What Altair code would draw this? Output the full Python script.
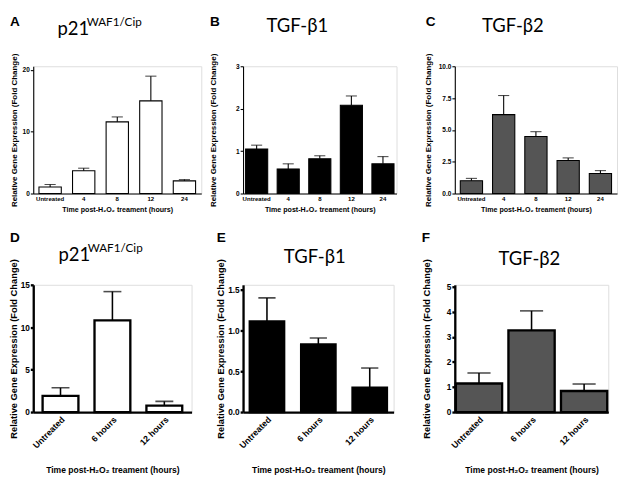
import altair as alt
import pandas as pd

# ---------------- data ----------------
top_cats = ["Untreated", "4", "8", "12", "24"]
bot_cats = ["Untreated", "6 hours", "12 hours"]

a_vals = [1.05, 3.7, 11.6, 15.0, 2.05]
a_errs = [1.47, 4.1, 12.4, 19.0, 2.25]
b_vals = [1.05, 0.58, 0.82, 2.08, 0.70]
b_errs = [1.14, 0.70, 0.89, 2.30, 0.87]
c_vals = [1.01, 6.2, 4.48, 2.6, 1.57]
c_errs = [1.19, 7.7, 4.86, 2.8, 1.8]
d_vals = [1.9, 10.8, 0.76]
d_errs = [2.86, 14.2, 1.26]
e_vals = [1.11, 0.83, 0.30]
e_errs = [1.40, 0.907, 0.54]
f_vals = [1.14, 3.26, 0.84]
f_errs = [1.56, 4.04, 1.12]

a_ticks = [0, 10, 20]
b_ticks = [0, 1, 2, 3]
c_ticks = [0, 2.5, 5, 7.5, 10]
d_ticks = [0, 5, 10, 15]
e_ticks = [0, 0.5, 1.0, 1.5]
f_ticks = [0, 1, 2, 3, 4, 5]

x_title = "Time post-H\u2082O\u2082 treament (hours)"
y_title = "Relative Gene Expression (Fold Change)"

AXF = "Liberation Sans"
TTF = "Lato"
H = 131


def text_layer(txt, x, y, size, font, weight="normal"):
    return alt.Chart(pd.DataFrame({"t": [txt]})).mark_text(
        align="left", baseline="alphabetic", font=font, fontSize=size,
        fontWeight=weight, color="black"
    ).encode(x=alt.value(x), y=alt.value(y), text="t:N")


def panel(cats, vals, errs, fill, width, ymax, ticks, fmt, pin, pout, big,
          ytx, letter, lxy, title, txy, sup=None, sxy=None):
    df = pd.DataFrame({"cat": cats, "val": vals, "err": errs})
    lw = 2.4 if big else 1.1
    if big:
        lab_size, ylab_size, xt_size, yt_size = 9, 8.5, 8.8, 9.6
    else:
        lab_size, ylab_size, xt_size, yt_size = 6.2, 6.7, 7.3, 8.2
    xscale = alt.Scale(paddingInner=pin, paddingOuter=pout)
    xaxis = alt.Axis(
        title=x_title, labelAngle=-45 if big else 0, ticks=False,
        domainColor="black", domainWidth=lw, labelFont=AXF,
        labelFontSize=lab_size, labelFontWeight="bold", labelColor="black",
        labelPadding=3 if big else 2,
        titleFont=AXF, titleFontSize=xt_size, titleFontWeight="bold",
        titleColor="black", titlePadding=16 if big else 4,
    )
    yaxis = alt.Axis(
        title=y_title, values=ticks, tickCount=20, format=fmt, grid=False,
        labelOverlap=False, labelFlush=False,
        domainColor="black", domainWidth=lw, tickColor="black",
        tickWidth=lw, tickSize=3, labelFont=AXF,
        labelFontSize=ylab_size, labelFontWeight="bold", labelColor="black",
        labelPadding=1, titleFont=AXF, titleFontSize=yt_size,
        titleFontWeight="bold", titleColor="black",
        titleX=ytx, titleY=H / 2,
        titleAlign="center", titleBaseline="bottom", titleAngle=270,
    )
    base = alt.Chart(df)
    x = alt.X("cat:N", sort=cats, scale=xscale, axis=xaxis)
    y = alt.Y("val:Q", scale=alt.Scale(domain=[0, ymax], nice=False), axis=yaxis)
    bars = base.mark_bar(fill=fill, stroke="black", strokeWidth=lw).encode(x=x, y=y)
    band = width / (len(cats) - pin + 2 * pout) * (1 - pin)
    rule = base.mark_rule(color="black", strokeWidth=1.6 if big else 1.1).encode(
        x=alt.X("cat:N", sort=cats), y="val:Q", y2="err:Q")
    cap = base.mark_tick(color="black", thickness=1.6 if big else 1.1,
                         size=band * 0.5).encode(
        x=alt.X("cat:N", sort=cats), y="err:Q")
    layers = [bars, rule, cap,
              text_layer(letter, lxy[0], lxy[1], 14, AXF, "bold"),
              text_layer(title, txy[0], txy[1], 19, TTF)]
    if sup:
        layers.append(text_layer(sup, sxy[0], sxy[1], 12, TTF))
    return alt.layer(*layers).properties(width=width, height=H)


def spacer(w):
    return alt.Chart(pd.DataFrame({"t": [""]})).mark_text().encode(
        text="t:N").properties(width=w, height=H)


pA = panel(top_cats, a_vals, a_errs, "white", 173, 20.6, a_ticks, "d", 0.335, 0.17,
           False, -15, "A", (-24, -41), "p21", (25, -32), "WAF1/Cip", (55, -41))
pB = panel(top_cats, b_vals, b_errs, "black", 158, 3, b_ticks, "d", 0.3, 0.08,
           False, -26, "B", (-34, -41), "TGF-\u03b21", (24, -35))
pC = panel(top_cats, c_vals, c_errs, "#555555", 167, 10, c_ticks, ".1f", 0.31, 0.17,
           False, -23, "C", (-30, -41), "TGF-\u03b22", (28, -35))
pD = panel(bot_cats, d_vals, d_errs, "white", 163, 15, d_ticks, "d", 0.31, 0.18,
           True, -15, "D", (-24, -44), "p21", (26, -25), "WAF1/Cip", (56, -34))
pE = panel(bot_cats, e_vals, e_errs, "black", 155, 1.56, e_ticks, ".1f", 0.33, 0.13,
           True, -18, "E", (-27, -44), "TGF-\u03b21", (42, -22))
pF = panel(bot_cats, f_vals, f_errs, "#555555", 158, 5.08, f_ticks, "d", 0.12, 0.02,
           True, -24, "F", (-34, -44), "TGF-\u03b22", (45, -20))

chart = alt.concat(
    pA, spacer(42), pB, spacer(46), pC,
    pD, spacer(43), pE, spacer(60), pF,
    columns=5, align="none", bounds="flush",
    spacing={"row": 94, "column": 0},
).properties(padding=0).configure_view(stroke=None).configure(background="white")

chart.save("out.html", embed_options={"renderer": "svg", "actions": False})
